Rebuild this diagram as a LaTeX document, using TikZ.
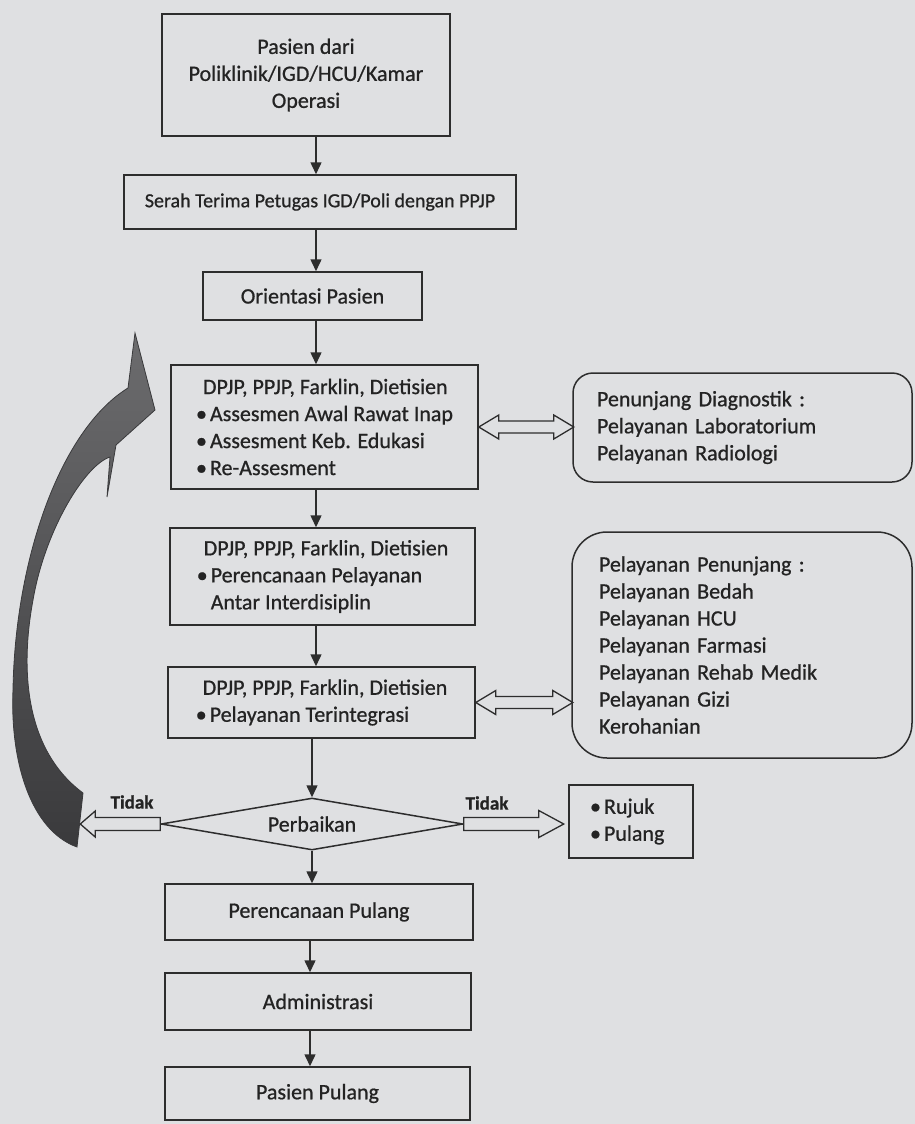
\documentclass[tikz,border=0pt]{standalone}
\usepackage{fontspec}
\setmainfont{Carlito}
\newfontfamily\semib{Carlito}[FakeBold=0.8]
\usetikzlibrary{shapes.geometric,arrows.meta,calc}
\definecolor{bg}{RGB}{223,224,226}
\definecolor{ink}{RGB}{35,35,35}
\definecolor{lineink}{RGB}{45,45,45}
\definecolor{arrowdark}{RGB}{58,58,60}
\definecolor{arrowlight}{RGB}{108,108,110}
\newcommand\bitem{\makebox[14pt][l]{\textbullet}}
\begin{document}
\begin{tikzpicture}[x=1pt,y=-1pt,
  every node/.style={font=\semib\fontsize{22}{27}\selectfont, text=ink},
  box/.style={draw=lineink, line width=1.5pt, rectangle, inner sep=0pt, align=center},
  lbox/.style={box, align=left},
  rbox/.style={draw=lineink, line width=1.5pt, rectangle, align=left, inner ysep=0pt},
  decision/.style={draw=lineink, line width=1.5pt, diamond, aspect=6, inner sep=0pt},
  arr/.style={draw=lineink, line width=1.5pt, -{Triangle[length=12pt,width=11pt]}},
  fat/.style={draw=lineink, line width=1.3pt, fill=bg, line join=miter},
  lbl/.style={font=\semib\fontsize{19}{23}\selectfont\bfseries}
]
\fill[bg] (0,0) rectangle (915,1124);
\useasboundingbox (0,0) rectangle (915,1124);

% main column
\node[box, minimum width=288pt, minimum height=122pt] (b1) at (306,75)
  {Pasien dari\\Poliklinik/IGD/HCU/Kamar\\Operasi};
\node[box, minimum width=392pt, minimum height=54pt,
      font=\semib\fontsize{20}{25}\selectfont] (b2) at (320,202)
  {Serah Terima Petugas IGD/Poli dengan PPJP};
\node[box, minimum width=219pt, minimum height=48pt] (b3) at (312.5,296)
  {Orientasi Pasien};
\node[lbox, minimum width=307pt, minimum height=124pt] (b4) at (324.5,427)
  {\hspace*{7pt}DPJP, PPJP, Farklin, Dietisien\\
   \bitem Assesmen Awal Rawat Inap\\
   \bitem Assesment Keb. Edukasi\\
   \bitem Re-Assesment};
\node[lbox, minimum width=305pt, minimum height=97pt] (b5) at (322.5,576.5)
  {\hspace*{7pt}DPJP, PPJP, Farklin, Dietisien\\
   \bitem Perencanaan Pelayanan\\
   \hspace*{14pt}Antar Interdisiplin};
\node[lbox, minimum width=307pt, minimum height=71pt] (b6) at (321.5,702.5)
  {\hspace*{7pt}DPJP, PPJP, Farklin, Dietisien\\
   \bitem Pelayanan Terintegrasi};
\node[decision, minimum width=302pt, minimum height=52pt] (d) at (312,824) {Perbaikan};
\node[box, minimum width=308pt, minimum height=56pt] (b7) at (319,912) {Perencanaan Pulang};
\node[box, minimum width=306pt, minimum height=57pt] (b8) at (318,1001.5) {Administrasi};
\node[box, minimum width=305pt, minimum height=53pt] (b9) at (317.5,1093.5) {Pasien Pulang};

% side boxes
\node[rbox, rounded corners=20pt, minimum width=339pt, minimum height=109pt,
      text width=291pt, inner xsep=24pt] (diag) at (742.5,427.5)
  {Penunjang Diagnostik :\\Pelayanan Laboratorium\\Pelayanan Radiologi};
\node[rbox, rounded corners=35pt, minimum width=340pt, minimum height=226pt,
      text width=286pt, inner xsep=27pt] (pen) at (742,645)
  {Pelayanan Penunjang :\\Pelayanan Bedah\\Pelayanan HCU\\Pelayanan Farmasi\\Pelayanan Rehab Medik\\Pelayanan Gizi\\Kerohanian};
\node[rbox, minimum width=124pt, minimum height=73pt,
      text width=82pt, inner xsep=21pt] (ruj) at (631,821.5)
  {\bitem Rujuk\\\bitem Pulang};

% labels
\node[lbl] (t1) at (132,802) {Tidak};
\node[lbl] (t2) at (487,803) {Tidak};

% vertical connectors
\coordinate (ax) at (316,0);
\coordinate (ax2) at (310,0);
\draw[arr] (ax |- b1.south) -- (ax |- b2.north);
\draw[arr] (ax |- b2.south) -- (ax |- b3.north);
\draw[arr] (ax |- b3.south) -- (ax |- b4.north);
\draw[arr] (ax |- b4.south) -- (ax |- b5.north);
\draw[arr] (ax |- b5.south) -- (ax |- b6.north);
\draw[arr] (d.north |- b6.south) -- (d.north);
\draw[arr] (d.south) -- (d.south |- b7.north);
\draw[arr] (ax2 |- b7.south) -- (ax2 |- b8.north);
\draw[arr] (ax2 |- b8.south) -- (ax2 |- b9.north);

% hollow block arrows
\draw[fat] (d.west) ++(0,-6.5) -- ++(-65,0) -- ++(0,-6.5) -- ++(-15,13)
  -- ++(15,13) -- ++(0,-6.5) -- ++(65,0) -- cycle;
\draw[fat] (d.east) ++(0,-6.5) -- ++(75,0) -- ++(0,-7) -- ++(25,13.5)
  -- ++(-25,13.5) -- ++(0,-7) -- ++(-75,0) -- cycle;
\draw[fat] (b4.east) -- ++(20,-12) -- ++(0,6) -- ++(55,0) -- ++(0,-6) -- ++(20,12)
  -- ++(-20,12) -- ++(0,-6) -- ++(-55,0) -- ++(0,6) -- cycle;
\draw[fat] (b6.east) -- ++(20,-12) -- ++(0,6) -- ++(57,0) -- ++(0,-6) -- ++(20,12)
  -- ++(-20,12) -- ++(0,-6) -- ++(-57,0) -- ++(0,6) -- cycle;

% big curved return arrow
\shade[top color=arrowlight, bottom color=arrowdark, draw=arrowdark, line width=0.8pt]
  (135,333) -- (155,410) -- (116,445) -- (107,497) -- (110,457)
  .. controls (85,465) and (45,530) .. (33,600)
  .. controls (20,670) and (25,750) .. (83,793)
  -- (77,847)
  .. controls (30,830) and (10,760) .. (13,690)
  .. controls (15,560) and (60,430) .. (128,388)
  -- cycle;
\end{tikzpicture}
\end{document}
